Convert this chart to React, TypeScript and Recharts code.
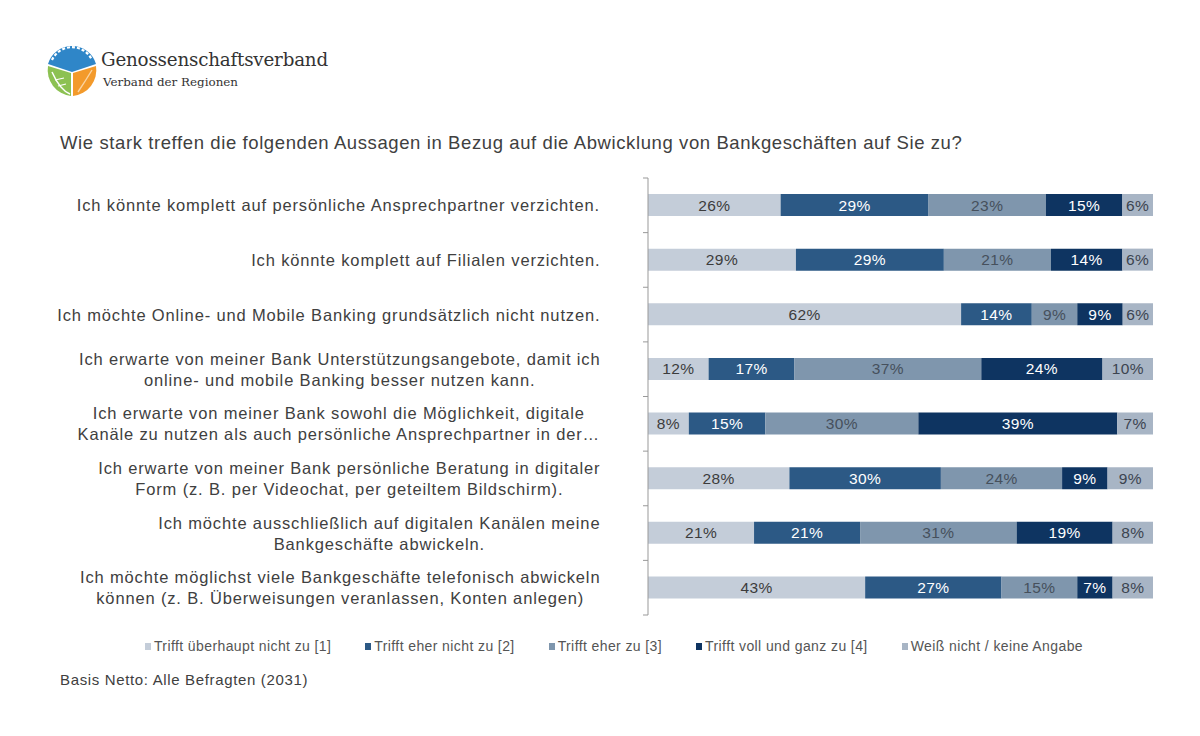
import React from 'react';
import { BarChart, Bar, XAxis, YAxis, LabelList, Legend } from 'recharts';

const categories = [
  'Ich könnte komplett auf persönliche Ansprechpartner verzichten.',
  'Ich könnte komplett auf Filialen verzichten.',
  'Ich möchte Online- und Mobile Banking grundsätzlich nicht nutzen.',
  'Ich erwarte von meiner Bank Unterstützungsangebote, damit ich\nonline- und mobile Banking besser nutzen kann.',
  'Ich erwarte von meiner Bank sowohl die Möglichkeit, digitale\nKanäle zu nutzen als auch persönliche Ansprechpartner in der…',
  'Ich erwarte von meiner Bank persönliche Beratung in digitaler\nForm (z. B. per Videochat, per geteiltem Bildschirm).',
  'Ich möchte ausschließlich auf digitalen Kanälen meine\nBankgeschäfte abwickeln.',
  'Ich möchte möglichst viele Bankgeschäfte telefonisch abwickeln\nkönnen (z. B. Überweisungen veranlassen, Konten anlegen)',
];

const s1 = [26, 29, 62, 12, 8, 28, 21, 43];
const s2 = [29, 29, 14, 17, 15, 30, 21, 27];
const s3 = [23, 21, 9, 37, 30, 24, 31, 15];
const s4 = [15, 14, 9, 24, 39, 9, 19, 7];
const s5 = [6, 6, 6, 10, 7, 9, 8, 8];

const seriesNames = [
  'Trifft überhaupt nicht zu [1]',
  'Trifft eher nicht zu [2]',
  'Trifft eher zu [3]',
  'Trifft voll und ganz zu [4]',
  'Weiß nicht / keine Angabe',
];

const data = categories.map((c, i) => ({
  name: c,
  s1: s1[i],
  s2: s2[i],
  s3: s3[i],
  s4: s4[i],
  s5: s5[i],
}));

const COLORS = ['#c4cdd9', '#2c5985', '#7f96ad', '#0e3461', '#a8b5c5'];
const LABEL_COLORS = ['#3c3c3c', '#ffffff', '#46505c', '#ffffff', '#3c4450'];
const KEYS = ['s1', 's2', 's3', 's4', 's5'];

const FONT = '"Liberation Sans", Arial, Helvetica, sans-serif';
const TEXT = '#404040';

const CHART_TOP = 178;
const CHART_BOTTOM = 121;
const CHART_H = 736;
const ROW_H = (CHART_H - CHART_TOP - CHART_BOTTOM) / categories.length;

const CAT_SIZE = 16.5;
const CAT_LS = 0.85;

let ctx: CanvasRenderingContext2D | null = null;
function measure(text: string, size: number, ls: number) {
  if (!ctx) {
    const c = document.createElement('canvas');
    ctx = c.getContext('2d');
  }
  if (!ctx) return text.length * (size * 0.5 + ls);
  ctx.font = `${size}px "Liberation Sans"`;
  return ctx.measureText(text).width + ls * text.length;
}

const CategoryTick = (props: any) => {
  const { x, y, payload, index } = props;
  const lines: string[] = String(payload.value).split('\n');
  const maxW = Math.max(...lines.map((l) => measure(l, CAT_SIZE, CAT_LS)));
  const cx = x - maxW / 2;
  const lh = 21;
  const axisX = x + 48;
  return (
    <g>
      <text
        x={cx}
        y={y}
        textAnchor="middle"
        fontFamily={FONT}
        fontSize={CAT_SIZE}
        letterSpacing={CAT_LS}
        fill={TEXT}
      >
        {lines.map((l, i) => (
          <tspan key={i} x={cx + CAT_LS / 2} dy={i === 0 ? -((lines.length - 1) * lh) / 2 + 6 : lh}>
            {l}
          </tspan>
        ))}
      </text>
      <line x1={axisX - 5} x2={axisX} y1={y - ROW_H / 2} y2={y - ROW_H / 2} stroke="#999" />
      {index === categories.length - 1 && (
        <line x1={axisX - 5} x2={axisX} y1={y + ROW_H / 2} y2={y + ROW_H / 2} stroke="#999" />
      )}
    </g>
  );
};

const LegendContent = () => (
  <div
    style={{
      display: 'flex',
      justifyContent: 'center',
      gap: 34,
      fontFamily: FONT,
      fontSize: 14,
      letterSpacing: 0.4,
      color: '#555',
      paddingLeft: 28,
      whiteSpace: 'nowrap',
    }}
  >
    {seriesNames.map((n, i) => (
      <div key={n} style={{ display: 'flex', alignItems: 'center' }}>
        <span
          style={{
            display: 'inline-block',
            width: 6,
            height: 7,
            background: COLORS[i],
            marginRight: 3,
          }}
        />
        <span>{n}</span>
      </div>
    ))}
  </div>
);

const Logo = () => (
  <svg width={60} height={60} style={{ position: 'absolute', left: 42, top: 40 }} viewBox="0 0 60 60">
    <circle cx={30} cy={30} r={26} fill="#ffffff" />
    <path d="M6 24 A25 25 0 0 1 54 24 L30 32 Z" fill="#2f86c8" />
    <path d="M10 20 A22 22 0 0 1 50 20" fill="none" stroke="#ffffff" strokeWidth={2.2} strokeDasharray="3 2" />
    <path d="M6 26 L29 33 L29 56 A26 26 0 0 1 6 26 Z" fill="#8cc152" />
    <path d="M10 32 Q18 50 28 54" fill="none" stroke="#ffffff" strokeWidth={1.5} />
    <path d="M13 40 L22 38 M16 46 L24 44" stroke="#ffffff" strokeWidth={1.2} />
    <path d="M54 26 L31 33 L31 56 A26 26 0 0 0 54 26 Z" fill="#f39a2b" />
    <path d="M36 52 Q44 40 50 30" fill="none" stroke="#fbd3a0" strokeWidth={1.4} />
  </svg>
);

export default function App() {
  return (
    <div style={{ position: 'absolute', left: 0, top: 0, width: 1200, height: 736, background: '#fff', fontFamily: FONT }}>
      <Logo />
      <div
        style={{
          position: 'absolute',
          left: 101,
          top: 49,
          fontFamily: '"DejaVu Serif", "Liberation Serif", serif',
          fontSize: 18.3,
          color: '#333',
          letterSpacing: -0.2,
        }}
      >
        Genossenschaftsverband
      </div>
      <div
        style={{
          position: 'absolute',
          left: 103,
          top: 75,
          fontFamily: '"DejaVu Serif", "Liberation Serif", serif',
          fontSize: 11.9,
          color: '#333',
        }}
      >
        Verband der Regionen
      </div>
      <div
        style={{
          position: 'absolute',
          left: 60,
          top: 132,
          fontSize: 18.5,
          letterSpacing: 0.6,
          color: TEXT,
          whiteSpace: 'nowrap',
        }}
      >
        Wie stark treffen die folgenden Aussagen in Bezug auf die Abwicklung von Bankgeschäften auf Sie zu?
      </div>
      <div style={{ position: 'absolute', left: 0, top: 0 }}>
        <BarChart
          width={1200}
          height={CHART_H}
          data={data}
          layout="vertical"
          stackOffset="expand"
          barSize={22}
          margin={{ top: CHART_TOP, bottom: CHART_BOTTOM, left: 0, right: 47 }}
        >
          <XAxis type="number" hide domain={[0, 1]} />
          <YAxis
            type="category"
            dataKey="name"
            width={648}
            axisLine={{ stroke: '#999' }}
            tickLine={false}
            tickSize={0}
            tickMargin={48}
            interval={0}
            tick={<CategoryTick />}
          />
          <Legend
            verticalAlign="bottom"
            wrapperStyle={{ top: 638, left: 0, width: 1200, height: 0, overflow: 'visible' }}
            content={<LegendContent />}
          />
          {KEYS.map((k, i) => (
            <Bar
              key={k}
              dataKey={k}
              name={seriesNames[i]}
              stackId="a"
              fill={COLORS[i]}
              isAnimationActive={false}
            >
              <LabelList
                dataKey={k}
                position="center"
                fill={LABEL_COLORS[i]}
                fontFamily={FONT}
                fontSize={15.5}
                letterSpacing={0.4}
                formatter={(v: any) => `${v}%`}
              />
            </Bar>
          ))}
        </BarChart>
      </div>
      <div
        style={{
          position: 'absolute',
          left: 60,
          top: 671,
          fontSize: 15,
          letterSpacing: 0.65,
          color: TEXT,
          whiteSpace: 'nowrap',
        }}
      >
        Basis Netto: Alle Befragten (2031)
      </div>
    </div>
  );
}
